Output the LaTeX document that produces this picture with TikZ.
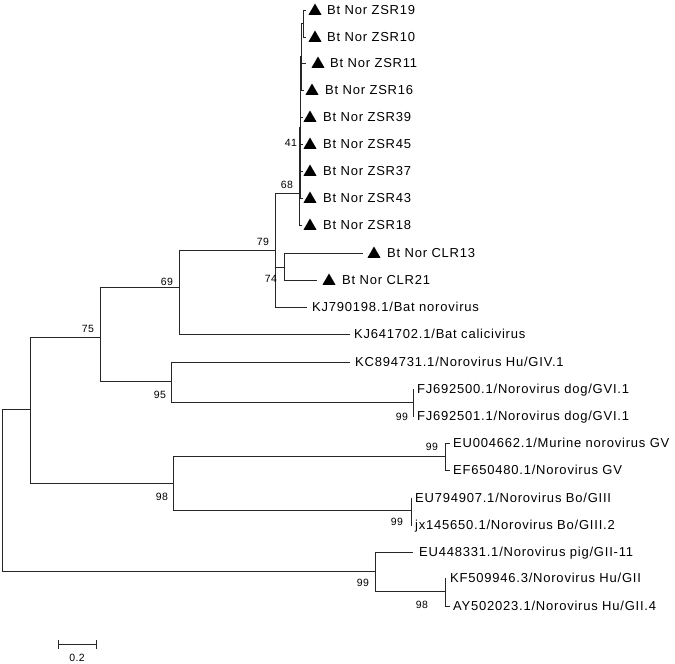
\documentclass[tikz,border=0pt]{standalone}
\usepackage{fontspec}
\setmainfont{Liberation Sans}
\newfontfamily\leaffont[LetterSpace=6]{Liberation Sans}
\newfontfamily\bootfont[LetterSpace=4]{Liberation Sans}
\usetikzlibrary{shapes.geometric}
\begin{document}
\begin{tikzpicture}[x=1pt,y=-1pt,
  br/.style={draw=black!85,line width=1pt},
  leaf/.style={anchor=west,inner sep=0pt,font=\leaffont\fontsize{13}{13}\selectfont,text height=9.3pt,text depth=0pt},
  boot/.style={inner sep=0pt,font=\bootfont\fontsize{10.5}{10.5}\selectfont},
  tri/.style={regular polygon,regular polygon sides=3,fill=black,draw=none,inner sep=0pt,minimum size=15pt}]
\useasboundingbox (0,0) rectangle (675,664);
% internal nodes
\coordinate (root) at (2,409);
\coordinate (nA) at (30,409);
\coordinate (n75) at (100,337);
\coordinate (n69) at (179,287);
\coordinate (n79) at (275,250);
\coordinate (n68) at (299,193);
\coordinate (n41) at (300.5,127);
\coordinate (nS2) at (301.5,56);
\coordinate (nS1) at (303,23);
\coordinate (nCLR) at (284,267);
\coordinate (n95) at (171,381);
\coordinate (nFJ) at (413,402);
\coordinate (n98) at (173,483);
\coordinate (nMur) at (445,456);
\coordinate (nBo) at (411,510);
\coordinate (nGII) at (375,571);
\coordinate (nKF) at (445,591);
% leaf tips
\coordinate (t1) at (306,10);
\coordinate (t2) at (306,37);
\coordinate (t3) at (306,63);
\coordinate (t4) at (303.5,90);
\coordinate (t5) at (303,117);
\coordinate (t6) at (303,144);
\coordinate (t7) at (303,171);
\coordinate (t8) at (303,198);
\coordinate (t9) at (302,225);
\coordinate (t10) at (363,253);
\coordinate (t11) at (317,280);
\coordinate (t12) at (307,307);
\coordinate (t13) at (350,334);
\coordinate (t14) at (350,362);
\coordinate (t15) at (414,389);
\coordinate (t16) at (414,416);
\coordinate (t17) at (450,443);
\coordinate (t18) at (450,470);
\coordinate (t19) at (412,498);
\coordinate (t20) at (412,525);
\coordinate (t21) at (413,552);
\coordinate (t22) at (446,578);
\coordinate (t23) at (450,606);
% branches
\draw[br] (root) |- (nA);
\draw[br] (root) |- (nGII);
\draw[br] (nA) |- (n75);
\draw[br] (nA) |- (n98);
\draw[br] (n75) |- (n69);
\draw[br] (n75) |- (n95);
\draw[br] (n69) |- (n79);
\draw[br] (n69) |- (t13);
\draw[br] (n79) |- (n68);
\draw[br] (n79) |- (nCLR);
\draw[br] (n79) |- (t12);
\draw[br] (n68) |- (n41);
\draw[br] (n68) |- (t9);
\draw[br] (n41) |- (nS2);
\draw[br] (n41) |- (t5);
\draw[br] (n41) |- (t6);
\draw[br] (n41) |- (t7);
\draw[br] (n41) |- (t8);
\draw[br] (nS2) |- (nS1);
\draw[br] (nS2) |- (t3);
\draw[br] (nS2) |- (t4);
\draw[br] (nS1) |- (t1);
\draw[br] (nS1) |- (t2);
\draw[br] (nCLR) |- (t10);
\draw[br] (nCLR) |- (t11);
\draw[br] (n95) |- (t14);
\draw[br] (n95) |- (nFJ);
\draw[br] (nFJ) |- (t15);
\draw[br] (nFJ) |- (t16);
\draw[br] (n98) |- (nMur);
\draw[br] (n98) |- (nBo);
\draw[br] (nMur) |- (t17);
\draw[br] (nMur) |- (t18);
\draw[br] (nBo) |- (t19);
\draw[br] (nBo) |- (t20);
\draw[br] (nGII) |- (t21);
\draw[br] (nGII) |- (nKF);
\draw[br] (nKF) |- (t22);
\draw[br] (nKF) |- (t23);
% triangles
\node[tri] (m1) at (315,11) {};
\node[tri] (m2) at (315,38) {};
\node[tri] (m3) at (318,64) {};
\node[tri] (m4) at (312,91) {};
\node[tri] (m5) at (310,118) {};
\node[tri] (m6) at (310,145) {};
\node[tri] (m7) at (310,172) {};
\node[tri] (m8) at (310,199) {};
\node[tri] (m9) at (310,226) {};
\node[tri] (m10) at (374,254) {};
\node[tri] (m11) at (329,281) {};
% leaf labels
\node[leaf] (l1) at (327,10) {Bt Nor ZSR19};
\node[leaf] (l2) at (327,37) {Bt Nor ZSR10};
\node[leaf] (l3) at (330,63) {Bt Nor ZSR11};
\node[leaf] (l4) at (325,90) {Bt Nor ZSR16};
\node[leaf] (l5) at (323,117) {Bt Nor ZSR39};
\node[leaf] (l6) at (323,144) {Bt Nor ZSR45};
\node[leaf] (l7) at (323,171) {Bt Nor ZSR37};
\node[leaf] (l8) at (323,198) {Bt Nor ZSR43};
\node[leaf] (l9) at (323,225) {Bt Nor ZSR18};
\node[leaf] (l10) at (387,253) {Bt Nor CLR13};
\node[leaf] (l11) at (342,280) {Bt Nor CLR21};
\node[leaf] (l12) at (312,307) {KJ790198.1/Bat norovirus};
\node[leaf] (l13) at (354,334) {KJ641702.1/Bat calicivirus};
\node[leaf] (l14) at (355,362) {KC894731.1/Norovirus Hu/GIV.1};
\node[leaf] (l15) at (417,389) {FJ692500.1/Norovirus dog/GVI.1};
\node[leaf] (l16) at (417,416) {FJ692501.1/Norovirus dog/GVI.1};
\node[leaf] (l17) at (453,443) {EU004662.1/Murine norovirus GV};
\node[leaf] (l18) at (453,470) {EF650480.1/Norovirus GV};
\node[leaf] (l19) at (415,498) {EU794907.1/Norovirus Bo/GIII};
\node[leaf] (l20) at (415,525) {jx145650.1/Norovirus Bo/GIII.2};
\node[leaf] (l21) at (419,552) {EU448331.1/Norovirus pig/GII-11};
\node[leaf] (l22) at (450,578) {KF509946.3/Norovirus Hu/GII};
\node[leaf] (l23) at (453,606) {AY502023.1/Norovirus Hu/GII.4};
% bootstrap values
\node[boot] (b75) at (88,329) {75};
\node[boot] (b69) at (167,282) {69};
\node[boot] (b79) at (263,242) {79};
\node[boot] (b68) at (287,185) {68};
\node[boot] (b41) at (291,143) {41};
\node[boot] (b74) at (271,279) {74};
\node[boot] (b95) at (160,395) {95};
\node[boot] (b99a) at (402,417) {99};
\node[boot] (b98a) at (162,497) {98};
\node[boot] (b99b) at (432,447) {99};
\node[boot] (b99c) at (397,522) {99};
\node[boot] (b99d) at (363,583) {99};
\node[boot] (b98b) at (422,605) {98};
% scale bar
\coordinate (sb1) at (58,644);
\coordinate (sb2) at (96,644);
\draw[br] (sb1) -- (sb2);
\draw[br] ([yshift=-4.5]sb1) -- ([yshift=4.5]sb1);
\draw[br] ([yshift=-4.5]sb2) -- ([yshift=4.5]sb2);
\node[boot] (sbl) at (77,658) {0.2};
\end{tikzpicture}
\end{document}
